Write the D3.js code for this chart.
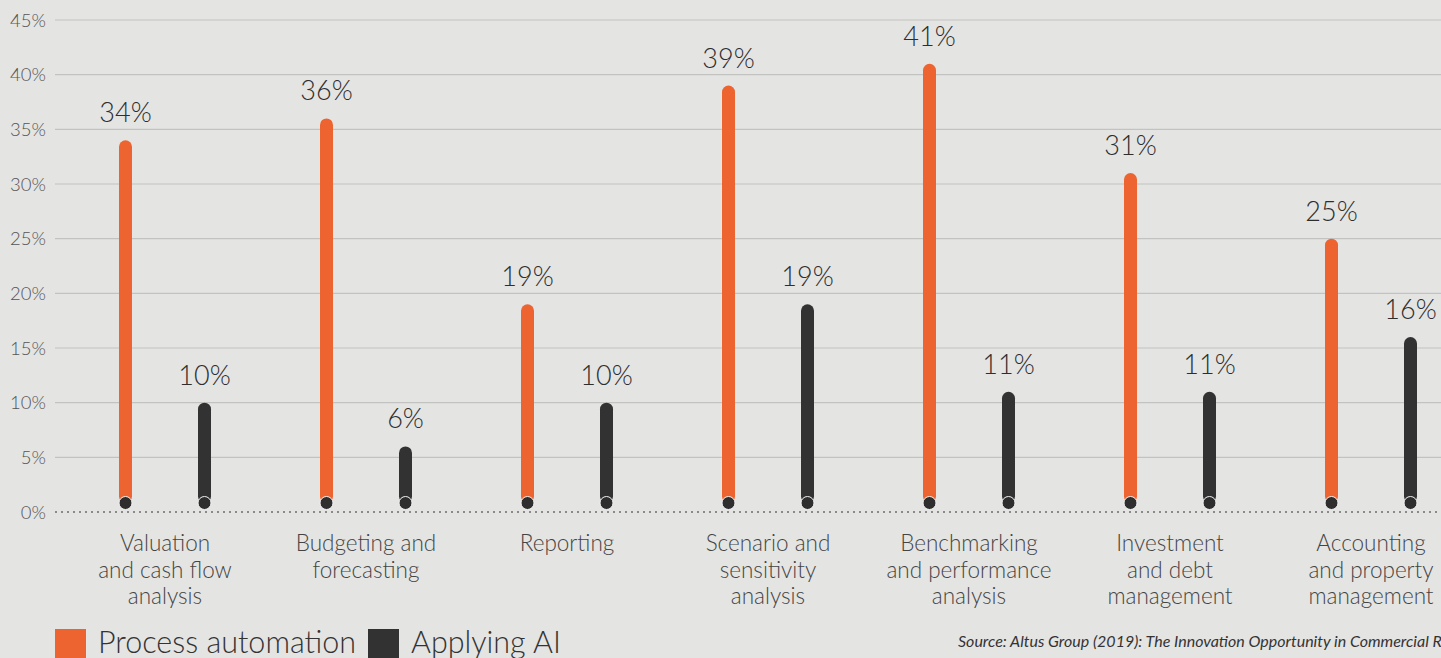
<!DOCTYPE html>
<html>
<head>
<meta charset="utf-8">
<script src="https://cdn.jsdelivr.net/npm/d3@7"></script>
<style>
  html, body { margin: 0; padding: 0; background: #e4e4e3; overflow: hidden; }
  svg { display: block; font-family: Lato, "Open Sans", sans-serif; }
</style>
</head>
<body>
<div id="chart"></div>
<script>
// chart data
const categories = [
  ["Valuation", "and cash flow", "analysis"],
  ["Budgeting and", "forecasting"],
  ["Reporting"],
  ["Scenario and", "sensitivity", "analysis"],
  ["Benchmarking", "and performance", "analysis"],
  ["Investment", "and debt", "management"],
  ["Accounting", "and property", "management"]
]
const processAutomation = [34, 36, 19, 39, 41, 31, 25]
const applyingAI = [10, 6, 10, 19, 11, 11, 16]
const seriesNames = ["Process automation", "Applying AI"]
const yTicks = [0, 5, 10, 15, 20, 25, 30, 35, 40, 45]
const sourceText = "Source:  Altus Group (2019): The Innovation Opportunity in Commercial Real Estate"

const width = 1441
const height = 658
const colors = ["#ee6430", "#323232"]

const svg = d3.select('#chart').append("svg")
  .attr("width", width)
  .attr("height", height)

svg.append("rect")
  .attr("width", width).attr("height", height)
  .attr("fill", "#e4e4e3")

const yScale = d3.scaleLinear()
  .domain([0, 45])
  .range([512, 20])

// group centres: orange bar at 125, dark bar at 204, step 201
const xScale = d3.scaleBand()
  .domain(d3.range(categories.length))
  .range([64.5, 64.5 + 201 * 7])
  .padding(0)
const offset = 39.5

// grid
svg.append("g")
  .selectAll("line")
  .data(yTicks.filter(d => d > 0))
  .join("line")
    .attr("x1", 55).attr("x2", width)
    .attr("y1", d => yScale(d)).attr("y2", d => yScale(d))
    .attr("stroke", "#c2c2c1")
    .attr("stroke-width", 1.2)

svg.append("line")
  .attr("x1", 55).attr("x2", width)
  .attr("y1", yScale(0)).attr("y2", yScale(0))
  .attr("stroke", "#8a8a8a")
  .attr("stroke-width", 2)
  .attr("stroke-dasharray", "2,4")

// y axis labels
svg.append("g")
  .selectAll("text")
  .data(yTicks)
  .join("text")
    .attr("x", 46)
    .attr("y", d => yScale(d) + 6.5)
    .attr("text-anchor", "end")
    .style("font-size", "18.5px")
    .style("font-weight", 300)
    .style("fill", "#555")
    .text(d => d + "%")

const series = [processAutomation, applyingAI]
const barW = 13
const baseY = yScale(0) - 9

series.forEach((values, si) => {
  const cx = i => xScale(i) + xScale.bandwidth() / 2 + (si === 0 ? -offset : offset)
  const g = svg.append("g")
  g.selectAll("rect")
    .data(values)
    .join("rect")
      .attr("x", (d, i) => cx(i) - barW / 2)
      .attr("y", d => yScale(d))
      .attr("width", barW)
      .attr("height", d => baseY - yScale(d))
      .attr("rx", barW / 2)
      .attr("fill", colors[si])
  g.selectAll("circle")
    .data(values)
    .join("circle")
      .attr("cx", (d, i) => cx(i))
      .attr("cy", baseY)
      .attr("r", 6.5)
      .attr("fill", "#2e2e2e")
      .attr("stroke", "#f2f2f2")
      .attr("stroke-width", 1)
  g.selectAll("text")
    .data(values)
    .join("text")
      .attr("x", (d, i) => cx(i))
      .attr("y", d => yScale(d) - 18)
      .attr("text-anchor", "middle")
      .style("font-size", "27px")
      .style("font-weight", 300)
      .style("fill", "#2e2e2e")
      .text(d => d + "%")
})

// category labels
const catG = svg.append("g")
categories.forEach((lines, i) => {
  const t = catG.append("text")
    .attr("text-anchor", "middle")
    .style("font-size", "22.5px")
    .style("font-weight", 300)
    .style("fill", "#444")
  lines.forEach((l, j) => {
    t.append("tspan")
      .attr("x", xScale(i) + xScale.bandwidth() / 2)
      .attr("y", 551 + j * 26.5)
      .text(l)
  })
})

// legend
const legend = svg.append("g")
const legendX = [55, 368]
seriesNames.forEach((name, i) => {
  legend.append("rect")
    .attr("x", legendX[i]).attr("y", 629)
    .attr("width", 31).attr("height", 31)
    .attr("fill", colors[i])
  legend.append("text")
    .attr("x", legendX[i] + 43).attr("y", 653)
    .style("font-size", "30.5px")
    .style("font-weight", 300)
    .style("fill", "#333")
    .text(name)
})

// source
svg.append("text")
  .attr("x", 958).attr("y", 647)
  .style("font-size", "16px")
  .style("font-style", "italic")
  .style("fill", "#333")
  .text(sourceText)
</script>
</body>
</html>
